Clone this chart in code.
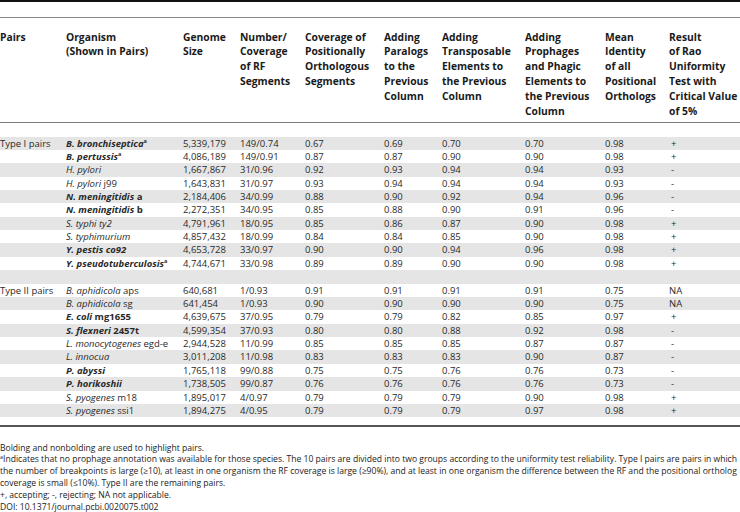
<!DOCTYPE html>
<html>
<head>
<meta charset="utf-8">
<script src="https://cdn.jsdelivr.net/npm/chart.js@4"></script>
<style>
html,body{margin:0;padding:0;background:#fff;}
body{width:740px;height:512px;position:relative;overflow:hidden;font-family:"Open Sans",sans-serif;color:#2a2a2a;}
.abs{position:absolute;white-space:nowrap;}
.hdr{font-weight:bold;font-size:10.3px;line-height:14.8px;color:#1a1a1a;}
.cell{font-size:9.5px;line-height:13.37px;height:13.37px;}
.band{position:absolute;left:0;width:740px;height:13.37px;background:#e5e5e5;}
.fl{position:absolute;left:0;font-size:8.8px;line-height:11px;height:11px;color:#222;white-space:nowrap;transform-origin:0 50%;}
sup{font-size:5.5px;line-height:0;vertical-align:0;position:relative;top:-3.5px;}
</style>
</head>
<body>
<div id="root"></div>
<script>
// ----- data -----
const headers = [
  "Pairs",
  "Organism<br>(Shown in Pairs)",
  "Genome<br>Size",
  "Number/<br>Coverage<br>of RF<br>Segments",
  "Coverage of<br>Positionally<br>Orthologous<br>Segments",
  "Adding<br>Paralogs<br>to the<br>Previous<br>Column",
  "Adding<br>Transposable<br>Elements to<br>the Previous<br>Column",
  "Adding<br>Prophages<br>and Phagic<br>Elements to<br>the Previous<br>Column",
  "Mean<br>Identity<br>of all<br>Positional<br>Orthologs",
  "Result<br>of Rao<br>Uniformity<br>Test with<br>Critical Value<br>of 5%"
];
const groups = ["Type I pairs","","","","","","","","","","","Type II pairs","","","","","","","","",""];
// organism: [italic part, plain suffix, bold, superscript a]
const organisms = [
  ["B. bronchiseptica","",1,1],["B. pertussis","",1,1],["H. pylori","",0,0],["H. pylori"," j99",0,0],
  ["N. meningitidis"," a",1,0],["N. meningitidis"," b",1,0],["S. typhi ty2","",0,0],["S. typhimurium","",0,0],
  ["Y. pestis co92","",1,0],["Y. pseudotuberculosis","",1,1],null,
  ["B. aphidicola"," aps",0,0],["B. aphidicola"," sg",0,0],["E. coli"," mg1655",1,0],["S. flexneri"," 2457t",1,0],
  ["L. monocytogenes"," egd-e",0,0],["L. innocua","",0,0],["P. abyssi","",1,0],["P. horikoshii","",1,0],
  ["S. pyogenes"," m18",0,0],["S. pyogenes"," ssi1",0,0]
];
const genomeSize = ["5,339,179","4,086,189","1,667,867","1,643,831","2,184,406","2,272,351","4,791,961","4,857,432","4,653,728","4,744,671","",
  "640,681","641,454","4,639,675","4,599,354","2,944,528","3,011,208","1,765,118","1,738,505","1,895,017","1,894,275"];
const rfSegments = ["149/0.74","149/0.91","31/0.96","31/0.97","34/0.99","34/0.95","18/0.95","18/0.99","33/0.97","33/0.98","",
  "1/0.93","1/0.93","37/0.95","37/0.93","11/0.99","11/0.98","99/0.88","99/0.87","4/0.97","4/0.95"];
const posOrthoCoverage = ["0.67","0.87","0.92","0.93","0.88","0.85","0.85","0.84","0.90","0.89","",
  "0.91","0.90","0.79","0.80","0.85","0.83","0.75","0.76","0.79","0.79"];
const addParalogs = ["0.69","0.87","0.93","0.94","0.90","0.88","0.86","0.84","0.90","0.89","",
  "0.91","0.90","0.79","0.80","0.85","0.83","0.75","0.76","0.79","0.79"];
const addTransposable = ["0.70","0.90","0.94","0.94","0.92","0.90","0.87","0.85","0.94","0.90","",
  "0.91","0.90","0.82","0.88","0.85","0.83","0.76","0.76","0.79","0.79"];
const addProphages = ["0.70","0.90","0.94","0.94","0.94","0.91","0.90","0.90","0.96","0.90","",
  "0.91","0.90","0.85","0.92","0.87","0.90","0.76","0.76","0.90","0.97"];
const meanIdentity = ["0.98","0.98","0.93","0.93","0.96","0.96","0.98","0.98","0.98","0.98","",
  "0.75","0.75","0.97","0.98","0.87","0.87","0.73","0.73","0.98","0.98"];
const raoResult = ["+","+","-","-","-","-","+","+","+","+","",
  "NA","NA","+","-","-","-","-","-","+","+"];
const footnotes = [
  "Bolding and nonbolding are used to highlight pairs.",
  "<sup>a</sup>Indicates that no prophage annotation was available for those species. The 10 pairs are divided into two groups according to the uniformity test reliability. Type I pairs are pairs in which",
  "the number of breakpoints is large (&ge;10), at least in one organism the RF coverage is large (&ge;90%), and at least in one organism the difference between the RF and the positional ortholog",
  "coverage is small (&le;10%). Type II are the remaining pairs.",
  "+, accepting; -, rejecting; NA not applicable.",
  "DOI: 10.1371/journal.pcbi.0020075.t002"
];

// ----- layout -----
const colX = [0, 66, 183, 240, 305, 384, 442, 525, 605, 669];
const rowTop0 = 136.5, rowH = 13.37;
const footTop0 = 442.5, footStep = 11.8;
const root = document.getElementById('root');
function add(html, cls, x, y){
  const d = document.createElement('div');
  d.className = 'abs ' + cls; d.style.left = x + 'px'; d.style.top = y + 'px';
  d.innerHTML = html; root.appendChild(d); return d;
}
function line(y, h, col){
  const d = document.createElement('div');
  d.style.cssText = `position:absolute;left:0;width:740px;top:${y}px;height:${h}px;background:${col}`;
  root.appendChild(d);
}
// bands
for (let i = 0; i < organisms.length; i += 2){
  const b = document.createElement('div'); b.className = 'band';
  b.style.top = (rowTop0 + i*rowH) + 'px'; root.appendChild(b);
}
line(0, 2, '#111'); line(17, 1, '#8a8a8a'); line(122, 1, '#7a7a7a'); line(425, 2, '#555');
headers.forEach((h, c) => add(h, 'hdr', colX[c], 29.6));
const cols = [groups, null, genomeSize, rfSegments, posOrthoCoverage, addParalogs, addTransposable, addProphages, meanIdentity, raoResult];
for (let r = 0; r < organisms.length; r++){
  const y = rowTop0 + r*rowH;
  cols.forEach((arr, c) => {
    if (c === 1){
      const o = organisms[r]; if (!o) return;
      let s = `<i>${o[0]}</i>${o[3] ? '<sup>a</sup>' : ''}${o[1]}`;
      if (o[2]) s = `<b>${s}</b>`;
      add(s, 'cell', colX[c], y);
    } else if (arr[r]) {
      let x = colX[c];
      if (c === 9 && arr[r] !== 'NA') x += 2;
      add(arr[r], 'cell', x, y);
    }
  });
}
const fls = footnotes.map((t, i) => {
  const d = document.createElement('div'); d.className = 'fl';
  d.style.top = (footTop0 + i*footStep) + 'px';
  d.innerHTML = t; root.appendChild(d); return d;
});
const maxW = Math.max(...fls.map(d => d.getBoundingClientRect().width));
const k = Math.min(1, 737 / maxW);
fls.forEach(d => d.style.transform = `scaleX(${k})`);
</script>
</body>
</html>
